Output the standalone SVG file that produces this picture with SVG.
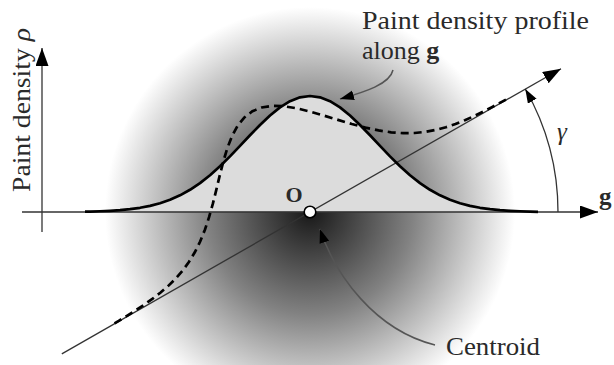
<svg xmlns="http://www.w3.org/2000/svg" xmlns:xlink="http://www.w3.org/1999/xlink" width="614" height="365" viewBox="0 0 614 365">
<style>
text{font-family:"Liberation Serif","DejaVu Serif",serif;fill:#2a2a2a}
.ax{stroke:#333;stroke-width:1.3;fill:none}
.ptr{stroke:#555;stroke-width:1.5;fill:none}
.b{font-weight:bold}
.it{font-style:italic}
</style>
<defs>
<radialGradient id="rg" gradientUnits="userSpaceOnUse" cx="310" cy="212" r="205">
<stop offset="0" stop-color="#181818"/>
<stop offset="0.5" stop-color="#828282"/>
<stop offset="1" stop-color="#ffffff"/>
</radialGradient>
<marker id="big" markerUnits="userSpaceOnUse" markerWidth="19" markerHeight="14" refX="18" refY="6.5" orient="auto">
<path d="M0,0 L18,6.5 L0,13 z" fill="#000"/>
</marker>
<marker id="sm" markerUnits="userSpaceOnUse" markerWidth="15" markerHeight="11" refX="14" refY="5" orient="auto">
<path d="M0,0 L14,5 L0,10 z" fill="#000"/>
</marker>
<path id="prof" d="M-225,-0.3 L-220,-0.45 L-210,-0.74 L-200,-1.18 L-190,-1.84 L-180,-2.81 L-170,-4.21 L-160,-6.14 L-150,-8.77 L-140,-12.23 L-130,-16.67 L-120,-22.21 L-110,-28.92 L-100,-36.81 L-90,-45.78 L-80,-55.64 L-70,-66.10 L-60,-76.74 L-50,-87.06 L-40,-96.54 L-30,-104.62 L-20,-110.80 L-10,-114.68 L0,-116 L10,-114.68 L20,-110.80 L30,-104.62 L40,-96.54 L50,-87.06 L60,-76.74 L70,-66.10 L80,-55.64 L90,-45.78 L100,-36.81 L110,-28.92 L120,-22.21 L130,-16.67 L140,-12.23 L150,-8.77 L160,-6.14 L170,-4.21 L180,-2.81 L190,-1.84 L200,-1.18 L210,-0.74 L220,-0.45 L228,-0.2"/>
</defs>
<rect width="614" height="365" fill="#fff"/>
<g id="paint-blob">
<circle cx="310" cy="212" r="205" fill="url(#rg)"/>
</g>
<g id="profile-fill">
<use xlink:href="#prof" transform="translate(310 212)" fill="#dcdcdc" stroke="none"/>
</g>
<g id="connectors">
<line class="ax" x1="22" y1="212" x2="598" y2="212" marker-end="url(#big)"/>
<line class="ax" x1="42" y1="232" x2="42" y2="48" marker-end="url(#big)"/>
<line class="ax" x1="61.8" y1="353.9" x2="561" y2="68.7" marker-end="url(#big)"/>
<path class="ax" d="M558,212 A248,248 0 0 0 525.3,89.0" marker-end="url(#sm)"/>
<path class="ptr" d="M393,70 C390,84 365,92 340,99" marker-end="url(#sm)"/>
<path class="ptr" d="M435,345 C375,330 335,275 320,229" marker-end="url(#sm)"/>
</g>
<g id="profile-along-g">
<use xlink:href="#prof" transform="translate(310 212) rotate(-29.76)" fill="none" stroke="#000" stroke-width="2.7" stroke-dasharray="8 5"/>
</g>
<g id="profile-horizontal">
<use xlink:href="#prof" transform="translate(310 212)" fill="none" stroke="#000" stroke-width="2.7" stroke-linejoin="round"/>
</g>
<g id="centroid">
<circle cx="310" cy="212" r="5.8" fill="#fff" stroke="#000" stroke-width="1.6"/>
<text class="b" x="294" y="202" font-size="22" text-anchor="middle">O</text>
</g>
<g id="labels">
<text x="362" y="29" font-size="26" textLength="227" lengthAdjust="spacingAndGlyphs">Paint density profile</text>
<text x="362" y="59" font-size="26">along <tspan class="b">g</tspan></text>
<text transform="translate(30 192) rotate(-90)" font-size="26" textLength="164" lengthAdjust="spacingAndGlyphs">Paint density <tspan class="it">ρ</tspan></text>
<text class="b" x="599" y="205" font-size="25">g</text>
<text class="it" x="557" y="140" font-size="25">γ</text>
<text x="446" y="355" font-size="26" textLength="94" lengthAdjust="spacingAndGlyphs">Centroid</text>
</g>
</svg>
